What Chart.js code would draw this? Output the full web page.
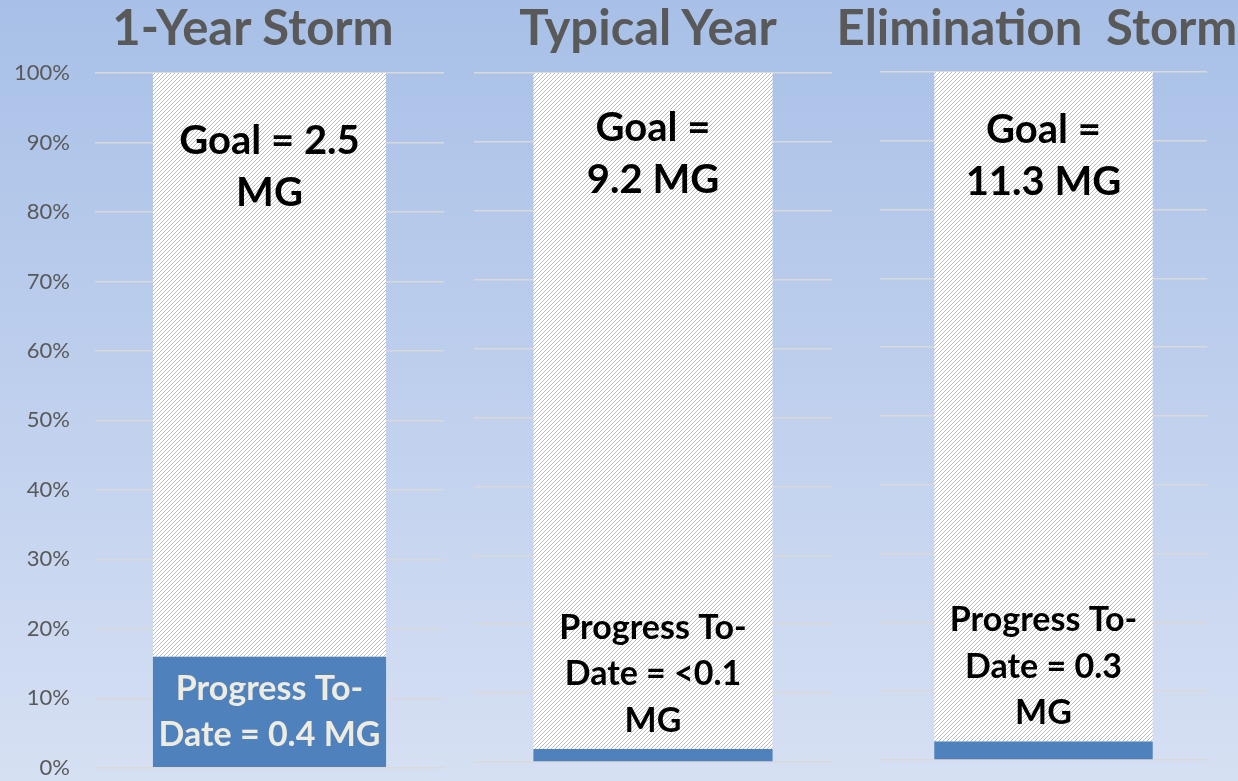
<!DOCTYPE html>
<html>
<head>
<meta charset="utf-8">
<script src="https://cdn.jsdelivr.net/npm/chart.js@4"></script>
<style>
  html, body { margin: 0; padding: 0; }
  body {
    width: 1238px; height: 781px; overflow: hidden; position: relative;
    background: linear-gradient(to bottom, #a8c0e7 0%, #c1d1ee 55%, #d6e0f3 100%);
    font-family: Lato, "Open Sans", sans-serif;
  }
  .title {
    position: absolute; top: -3px; margin: 0; white-space: nowrap;
    font: bold 49px Lato, sans-serif; color: #595959;
    transform: translateX(-50%);
  }
  canvas { position: absolute; top: 0; }
</style>
</head>
<body>
<div class="title" style="left:253px">1-Year Storm</div>
<div class="title" style="left:648px">Typical Year</div>
<div class="title" style="left:1037px">Elimination&nbsp; Storm</div>
<canvas id="c0" width="460" height="806" style="left:0px"></canvas>
<canvas id="c1" width="380" height="781" style="left:460px"></canvas>
<canvas id="c2" width="398" height="781" style="left:840px"></canvas>

<script>
// values (percent of goal)
const panels = ['1-Year Storm', 'Typical Year', 'Elimination  Storm'];
const progressPct = [16, 1.9, 2.7];
const remainingPct = [84, 98.1, 97.3];
const goalLines = [['Goal = 2.5', 'MG'], ['Goal =', '9.2 MG'], ['Goal =', '11.3 MG']];
const progressLines = [
    ['Progress To-', 'Date = 0.4 MG'],
    ['Progress To-', 'Date = <0.1', 'MG'],
    ['Progress To-', 'Date = 0.3', 'MG']
];
const yTicks = [0, 10, 20, 30, 40, 50, 60, 70, 80, 90, 100];

function makeHatch(ctx) {
    const c = document.createElement('canvas');
    c.width = 4; c.height = 4;
    const x = c.getContext('2d');
    x.fillStyle = '#ffffff';
    x.fillRect(0, 0, 4, 4);
    for (let i = 0; i < 4; i++) {
        x.fillStyle = '#bdbdbd';
        x.fillRect(i, 3 - i, 1, 1);
    }
    return ctx.createPattern(c, 'repeat');
}

const barLabels = {
    id: 'barLabels',
    afterDatasetsDraw(chart, args, opts) {
        const ctx = chart.ctx;
        const i = opts.index;
        const prog = chart.getDatasetMeta(0).data[0];
        const goal = chart.getDatasetMeta(1).data[0];
        ctx.save();
        ctx.textAlign = 'center';
        ctx.textBaseline = 'middle';

        ctx.font = 'bold 40px Lato';
        ctx.fillStyle = '#000000';
        goalLines[i].forEach((t, k) => {
            ctx.fillText(t, goal.x, goal.y + opts.goalOffset + k * 52.5);
        });

        ctx.font = 'bold 34px Lato';
        const lines = progressLines[i];
        const lh = 46.5;
        const h = prog.base - prog.y;
        let first;
        if (h > lines.length * lh) {
            first = (prog.y + prog.base) / 2 - (lines.length - 1) * lh / 2;
            ctx.fillStyle = '#eeece1';
        } else {
            first = prog.y - 28 - (lines.length - 1) * lh;
            ctx.fillStyle = '#000000';
        }
        lines.forEach((t, k) => ctx.fillText(t, prog.x, first + k * lh));
        ctx.restore();
    }
};

function makeChart(id, i, pad, showTicks, goalOffset) {
    const ctx = document.getElementById(id).getContext('2d');
    return new Chart(ctx, {
        type: 'bar',
        data: {
            labels: [panels[i]],
            datasets: [{
                label: 'Progress To-Date',
                data: [progressPct[i]],
                backgroundColor: '#4f81bd',
                borderWidth: 0
            }, {
                label: 'Goal',
                data: [remainingPct[i]],
                backgroundColor: makeHatch(ctx),
                borderWidth: 0
            }]
        },
        options: {
            responsive: false,
            animation: false,
            layout: { padding: pad },
            datasets: { bar: { categoryPercentage: 1, barPercentage: 0.668 } },
            plugins: {
                legend: { display: false },
                tooltip: { enabled: false },
                barLabels: { index: i, goalOffset: goalOffset }
            },
            scales: {
                x: { stacked: true, display: false },
                y: {
                    stacked: true,
                    min: 0,
                    max: 100,
                    afterBuildTicks: s => { s.ticks = yTicks.map(v => ({ value: v })); },
                    afterFit: s => { if (showTicks) s.width = 95; },
                    border: { display: false },
                    grid: { color: '#d9d9d9', lineWidth: 1.5, drawTicks: false },
                    ticks: {
                        display: showTicks,
                        padding: 25,
                        color: '#595959',
                        font: { family: 'Lato', size: 22 },
                        callback: v => v + '%'
                    }
                }
            }
        },
        plugins: [barLabels]
    });
}

makeChart('c0', 0, { left: 0, right: 16, top: 73, bottom: 14 }, true, 68);
makeChart('c1', 1, { left: 14, right: 8, top: 73, bottom: 19 }, false, 55);
makeChart('c2', 2, { left: 40, right: 31, top: 72, bottom: 21 }, false, 58);
</script>
</body>
</html>
